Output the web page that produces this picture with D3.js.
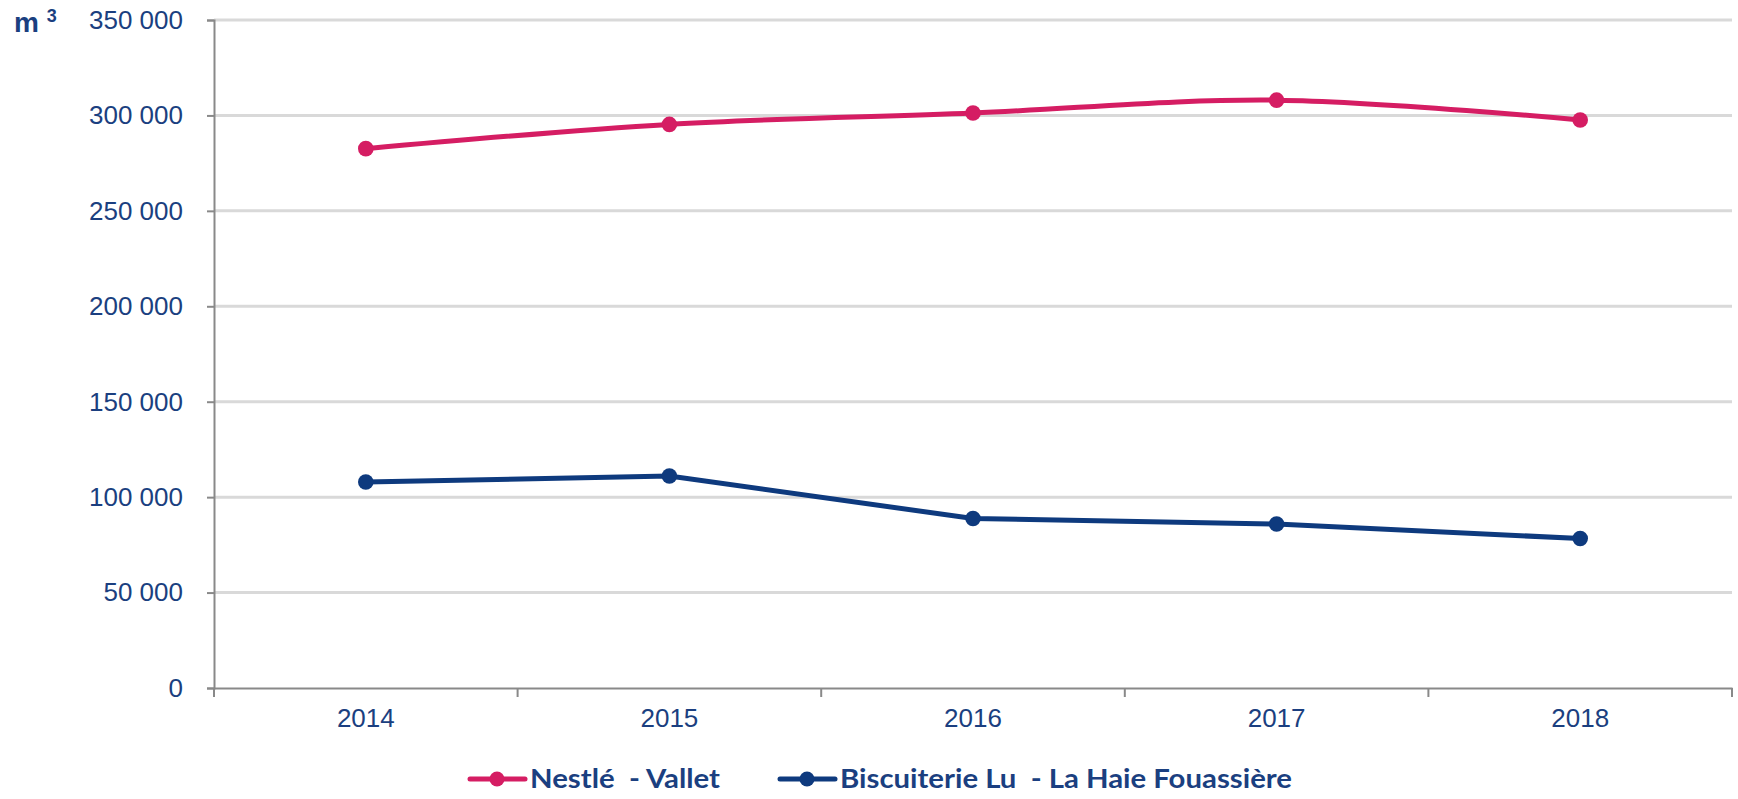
<!DOCTYPE html>
<html><head><meta charset="utf-8">
<script src="https://cdn.jsdelivr.net/npm/d3@7"></script>
<style>
html,body{margin:0;padding:0;background:#fff;}
svg{display:block;}
</style></head>
<body>
<svg id="chart" width="1738" height="799"></svg>
<script>
const years = ["2014","2015","2016","2017","2018"];
const nestle = [282600, 295300, 301300, 308000, 297600];
const biscuiterie = [107900, 111100, 88800, 85900, 78300];
const yTicks = [0, 50000, 100000, 150000, 200000, 250000, 300000, 350000];
const seriesNames = ["Nestlé  - Vallet", "Biscuiterie Lu  - La Haie Fouassière"];
const seriesColors = ["#d51d63", "#0e3a7e"];

const W = 1738, H = 799;
const m = {left: 214, right: 6, top: 20, bottom: 111};
const svg = d3.select("#chart");
const x = d3.scaleBand().domain(years).range([m.left, W - m.right]);
const y = d3.scaleLinear().domain([0, 350000]).range([H - m.bottom, m.top]);
const txt = "#1b3f80";
const fmt = v => d3.format(",")(v).replace(/,/g, " ");

// gridlines
svg.append("g").selectAll("line").data(yTicks.filter(d => d > 0)).join("line")
  .attr("x1", m.left).attr("x2", W - m.right)
  .attr("y1", d => y(d)).attr("y2", d => y(d))
  .attr("stroke", "#d9d9d9").attr("stroke-width", 3);

// y axis
const ya = svg.append("g").attr("transform", `translate(${m.left},0)`)
  .call(d3.axisLeft(y).tickValues(yTicks).tickSize(7).tickPadding(24).tickFormat(fmt));
ya.select(".domain").attr("stroke", "#898989").attr("stroke-width", 2);
ya.selectAll(".tick line").attr("stroke", "#898989").attr("stroke-width", 2);
ya.selectAll("text").attr("fill", txt).style("font-family", "'Liberation Sans', Arial, sans-serif").style("font-size", "26px");

// x axis
const xa = svg.append("g").attr("transform", `translate(0,${y(0)})`)
  .call(d3.axisBottom(x).tickSize(0).tickPadding(21));
xa.select(".domain").attr("stroke", "#898989").attr("stroke-width", 2);
xa.selectAll("text").attr("fill", txt).style("font-family", "'Liberation Sans', Arial, sans-serif").style("font-size", "26px");
// tick marks at band boundaries
const bounds = years.map(d => x(d)).concat([x(years[years.length-1]) + x.bandwidth()]);
xa.append("g").selectAll("line").data(bounds).join("line")
  .attr("x1", d => d).attr("x2", d => d).attr("y1", 0).attr("y2", 9)
  .attr("stroke", "#898989").attr("stroke-width", 2);

// unit label
const unit = svg.append("text").attr("x", 14).attr("y", 32).attr("fill", txt)
  .style("font-family", "'Liberation Sans', Arial, sans-serif").style("font-weight", "bold").style("font-size", "28px");
unit.append("tspan").text("m ");
unit.append("tspan").attr("dy", -10).style("font-size", "18px").text("3");

const cx = d => x(d) + x.bandwidth() / 2;
const data = [nestle, biscuiterie];
const curves = [d3.curveCatmullRom.alpha(0.5), d3.curveLinear];
data.forEach((vals, i) => {
  const pts = years.map((yr, j) => [cx(yr), y(vals[j])]);
  svg.append("path").attr("d", d3.line().curve(curves[i])(pts))
    .attr("fill", "none").attr("stroke", seriesColors[i]).attr("stroke-width", 5);
  svg.append("g").selectAll("circle").data(pts).join("circle")
    .attr("cx", d => d[0]).attr("cy", d => d[1]).attr("r", 7.8).attr("fill", seriesColors[i]);
});

// legend
const legX = [470, 780];
const legW = [190, 452];
const ly = 779;
seriesNames.forEach((n, i) => {
  const g = svg.append("g");
  g.append("line").attr("x1", legX[i]).attr("x2", legX[i] + 55).attr("y1", ly).attr("y2", ly)
    .attr("stroke", seriesColors[i]).attr("stroke-width", 5).attr("stroke-linecap", "round");
  g.append("circle").attr("cx", legX[i] + 27).attr("cy", ly).attr("r", 7.5).attr("fill", seriesColors[i]);
  g.append("text").attr("x", legX[i] + 60).attr("y", 788).attr("fill", txt)
    .attr("textLength", legW[i]).attr("lengthAdjust", "spacingAndGlyphs")
    .style("font-family", "Lato, 'Open Sans', 'Liberation Sans', sans-serif")
    .style("font-weight", "bold").style("font-size", "26px").style("white-space", "pre")
    .text(n);
});
</script>
</body></html>
